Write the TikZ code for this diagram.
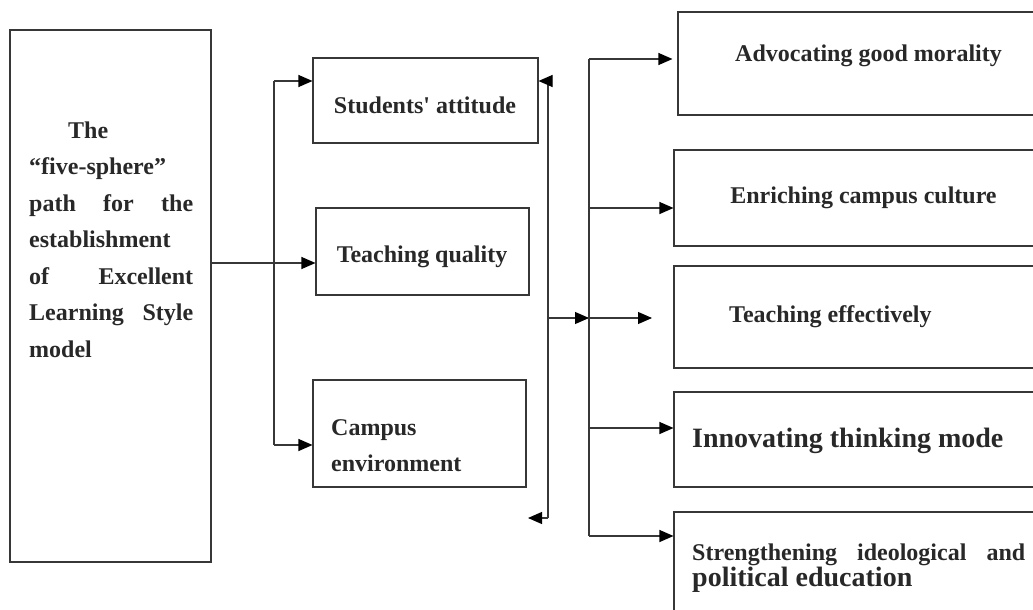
\documentclass[tikz,border=0pt]{standalone}
\usepackage{fontspec}
\setmainfont{Liberation Serif}[Ligatures=TeXOff]
\usetikzlibrary{arrows.meta}
\definecolor{lncol}{RGB}{55,55,55}
\definecolor{txcol}{RGB}{40,40,40}
\begin{document}
\begin{tikzpicture}[x=1pt,y=-1pt,
  box/.style={draw=lncol,line width=1.1pt,rectangle,inner sep=0pt},
  wire/.style={draw=lncol,line width=1.1pt},
  arr/.style={draw=lncol,line width=1.1pt,-{Triangle[length=14pt,width=12pt,color=black]}},
  txt/.style={inner sep=0pt,text=txcol,font=\fontsize{24}{28}\selectfont\bfseries},
  big/.style={inner sep=0pt,text=txcol,font=\fontsize{28}{32}\selectfont\bfseries}]
\clip (0,0) rectangle (1033,610);
\fill[white] (0,0) rectangle (1033,610);

% boxes
\node[box, minimum width=201pt, minimum height=532pt] (left) at (110.5,296) {};
\node[box, minimum width=225pt, minimum height=85pt] (sa) at (425.5,100.5) {};
\node[box, minimum width=213pt, minimum height=87pt] (tq) at (422.5,251.5) {};
\node[box, minimum width=213pt, minimum height=107pt] (ce) at (419.5,433.5) {};
\node[box, minimum width=367pt, minimum height=103pt] (am) at (861.5,63.5) {};
\node[box, minimum width=371pt, minimum height=96pt] (ec) at (859.5,198) {};
\node[box, minimum width=371pt, minimum height=102pt] (te) at (859.5,317) {};
\node[box, minimum width=371pt, minimum height=95pt] (inn) at (859.5,439.5) {};
\node[box, minimum width=371pt, minimum height=138pt] (se) at (859.5,581) {};

% texts
\node[txt, anchor=base west] (lefttxt) at (29,138) {\parbox[t]{164pt}{\fontsize{24}{36.5}\selectfont\bfseries
\hspace*{39pt}The\\
“five-sphere”\\
\hbox to 164pt{path\hfill for\hfill the}\\
establishment\\
\hbox to 164pt{of\hfill Excellent}\\
\hbox to 164pt{Learning\hfill Style}\\
model}};
\node[txt, anchor=base] (satxt) at (425,113) {Students' attitude};
\node[txt, anchor=base] (tqtxt) at (422,262) {Teaching quality};
\node[txt, anchor=base west] (cetxt) at (331,435) {\parbox[t]{180pt}{\fontsize{24}{36}\selectfont\bfseries Campus\\ environment}};
\node[txt, anchor=base] (amtxt) at (868.5,62) {Advocating good morality};
\node[txt, anchor=base] (ectxt) at (863.5,203) {Enriching campus culture};
\node[txt, anchor=base west] (tetxt) at (729,322) {Teaching effectively};
\node[big, anchor=base west] (intxt) at (692,447) {Innovating thinking mode};
\node[txt, anchor=base west] (setxta) at (692,560) {\hbox to 333pt{Strengthening\hfill ideological\hfill and}};
\node[big, anchor=base west] (setxtb) at (692,586) {political education};

% connector coordinates
\coordinate (in1) at (0,263);
\coordinate (b1t) at (274,81);
\coordinate (b1b) at (274,445);
\coordinate (b2t) at (548,81);
\coordinate (b2m) at (548,318);
\coordinate (b2b) at (548,518);
\coordinate (b2end) at (528,518);
\coordinate (b3t) at (589,59);
\coordinate (b3b) at (589,536);
\coordinate (r2) at (589,208);
\coordinate (r3) at (589,318);
\coordinate (r3end) at (652,318);
\coordinate (r4) at (589,428);

% connectors
\draw[arr] (left.east |- in1) -- (tq.west |- in1);
\draw[wire] (b1t) -- (b1b);
\draw[arr] (b1t) -- (sa.west |- b1t);
\draw[arr] (b1b) -- (ce.west |- b1b);
\draw[wire] (b2t) -- (b2b);
\draw[arr] (b2t) -- (sa.east |- b2t);
\draw[arr] (b2b) -- (b2end);
\draw[arr] (b2m) -- (b3t |- b2m);
\draw[wire] (b3t) -- (b3b);
\draw[arr] (b3t) -- ([xshift=-5pt]am.west |- b3t);
\draw[arr] (r2) -- (ec.west |- r2);
\draw[arr] (r3) -- (r3end);
\draw[arr] (r4) -- (inn.west |- r4);
\draw[arr] (b3b) -- (se.west |- b3b);
\end{tikzpicture}
\end{document}
